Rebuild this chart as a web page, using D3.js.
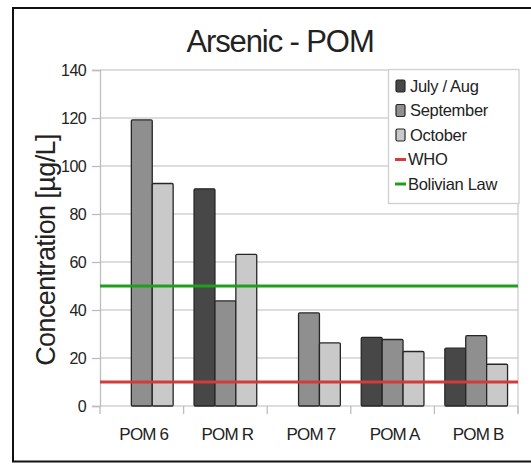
<!DOCTYPE html>
<html>
<head>
<meta charset="utf-8">
<script src="https://cdn.jsdelivr.net/npm/d3@7"></script>
<style>
  html, body { margin: 0; padding: 0; background: #fff; }
  svg { display: block; font-family: "Liberation Sans", Arial, sans-serif; }
</style>
</head>
<body>
<svg id="chart" width="531" height="464"></svg>
<script>
// Sampling sites and sampling campaigns
const sites = ["POM 6", "POM R", "POM 7", "POM A", "POM B"];
const campaigns = ["July / Aug", "September", "October"];

// Arsenic concentration per campaign, µg/L (null = not sampled)
const julyAug   = [null, 90.5, null, 28.6, 24.1];
const september = [119.2, 43.8, 38.8, 27.7, 29.3];
const october   = [92.7, 63.2, 26.3, 22.7, 17.4];

// Guideline limits, µg/L
const limitNames  = ["WHO", "Bolivian Law"];
const limitValues = [10, 50];

const yTicks = [0, 20, 40, 60, 80, 100, 120, 140];

const seriesValues = [julyAug, september, october];
const seriesFill = ["#474747", "#8f8f8f", "#c9c9c9"];
const limitColor = ["#d23c3c", "#1f9f1f"];

const svg = d3.select("#chart");
const plotL = 100, plotR = 518, plotT = 70, plotB = 406;

// outer frame
svg.append("rect")
  .attr("x", 13).attr("y", 8).attr("width", 560).attr("height", 453.5)
  .attr("fill", "#fff").attr("stroke", "#111").attr("stroke-width", 2);

const x0 = d3.scaleBand().domain(sites).range([plotL, plotR])
  .paddingInner(0.25).paddingOuter(0.125);
const x1 = d3.scaleBand().domain(campaigns).range([0, x0.bandwidth()]);
const y = d3.scaleLinear().domain([0, 140]).range([plotB, plotT]);

// horizontal grid
svg.append("g").selectAll("line").data(yTicks).join("line")
  .attr("x1", plotL).attr("x2", plotR)
  .attr("y1", d => y(d)).attr("y2", d => y(d))
  .attr("stroke", "#d2d2d2").attr("stroke-width", 1.3);

// right edge of plot
svg.append("line")
  .attr("x1", plotR).attr("x2", plotR).attr("y1", plotT).attr("y2", plotB + 8)
  .attr("stroke", "#cccccc").attr("stroke-width", 1.3);

// y axis
const yAxis = d3.axisLeft(y).tickValues(yTicks).tickSize(8).tickPadding(6);
const gy = svg.append("g").attr("transform", `translate(${plotL},0)`).call(yAxis);
gy.select(".domain").attr("stroke", "#bdbdbd").attr("stroke-width", 1.3);
gy.selectAll(".tick line").attr("stroke", "#bdbdbd").attr("stroke-width", 1.3);
gy.selectAll(".tick text")
  .attr("font-size", 16).attr("fill", "#222")
  .attr("font-family", "Liberation Sans, Arial, sans-serif")
  .attr("letter-spacing", -0.6);

// x axis: ticks at category boundaries, labels centred under groups
const boundaries = d3.range(sites.length + 1).map(i => plotL + i * (plotR - plotL) / sites.length);
svg.append("g").selectAll("line").data(boundaries).join("line")
  .attr("x1", d => d).attr("x2", d => d)
  .attr("y1", plotB).attr("y2", plotB + 8)
  .attr("stroke", "#bdbdbd").attr("stroke-width", 1.3);
svg.append("g").selectAll("text").data(sites).join("text")
  .attr("x", d => x0(d) + x0.bandwidth() / 2 + 2)
  .attr("y", 440)
  .attr("text-anchor", "middle")
  .attr("font-size", 17).attr("fill", "#222")
  .attr("letter-spacing", -0.8)
  .text(d => d);

// bars
const bars = [];
sites.forEach((s, i) => {
  campaigns.forEach((c, j) => {
    const v = seriesValues[j][i];
    if (v != null) bars.push({ site: s, campaign: c, value: v, k: j });
  });
});
svg.append("g").selectAll("rect").data(bars).join("rect")
  .attr("x", d => x0(d.site) + x1(d.campaign))
  .attr("y", d => y(d.value))
  .attr("width", x1.bandwidth())
  .attr("height", d => y(0) - y(d.value))
  .attr("fill", d => seriesFill[d.k])
  .attr("stroke", "#262626").attr("stroke-width", 1.3)
  .attr("rx", 1.2);

// guideline lines
svg.append("g").selectAll("line").data(limitValues).join("line")
  .attr("x1", plotL).attr("x2", plotR)
  .attr("y1", d => y(d)).attr("y2", d => y(d))
  .attr("stroke", (d, i) => limitColor[i]).attr("stroke-width", 3);

// legend
const lg = svg.append("g");
lg.append("rect")
  .attr("x", 388.5).attr("y", 69.5).attr("width", 130.5).attr("height", 134)
  .attr("fill", "#fff").attr("stroke", "#cfcfcf").attr("stroke-width", 1.3);
const rowY = i => 86 + i * 24.5;
campaigns.forEach((c, i) => {
  lg.append("rect")
    .attr("x", 396).attr("y", rowY(i) - 6).attr("width", 9).attr("height", 12)
    .attr("rx", 1.5)
    .attr("fill", seriesFill[i]).attr("stroke", "#262626").attr("stroke-width", 1.2);
  lg.append("text")
    .attr("x", 410).attr("y", rowY(i)).attr("dy", "0.36em")
    .attr("font-size", 16.5).attr("fill", "#222").attr("letter-spacing", -0.3)
    .text(c);
});
limitNames.forEach((n, i) => {
  const r = i + campaigns.length;
  lg.append("line")
    .attr("x1", 395).attr("x2", 406).attr("y1", rowY(r)).attr("y2", rowY(r))
    .attr("stroke", limitColor[i]).attr("stroke-width", 3);
  lg.append("text")
    .attr("x", 408).attr("y", rowY(r)).attr("dy", "0.36em")
    .attr("font-size", 16.5).attr("fill", "#222").attr("letter-spacing", -0.3)
    .text(n);
});

// title
svg.append("text")
  .attr("x", 280).attr("y", 52)
  .attr("text-anchor", "middle")
  .attr("font-size", 31).attr("fill", "#222").attr("letter-spacing", -1.1)
  .text("Arsenic - POM");

// y axis title
svg.append("text")
  .attr("transform", "translate(55,250) rotate(-90)")
  .attr("text-anchor", "middle")
  .attr("font-size", 27).attr("fill", "#222").attr("letter-spacing", -0.6)
  .text("Concentration [µg/L]");
</script>
</body>
</html>
